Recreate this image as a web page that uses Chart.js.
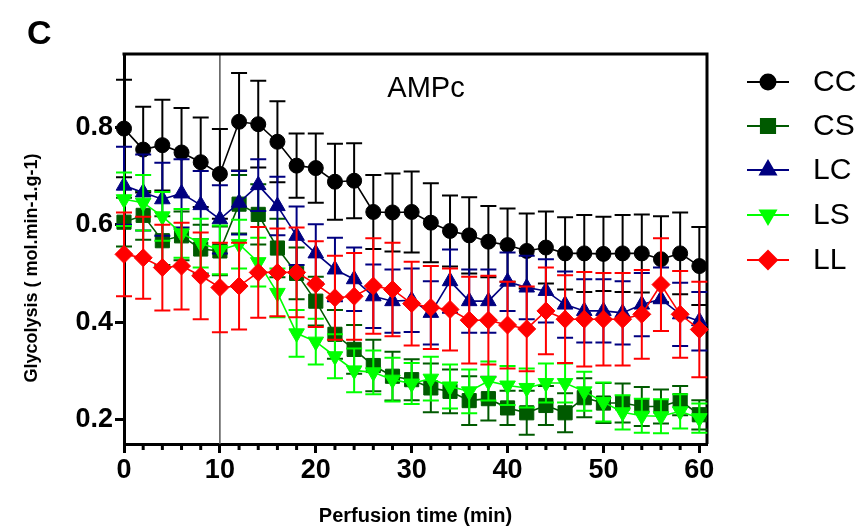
<!DOCTYPE html>
<html>
<head>
<meta charset="utf-8">
<script src="https://cdn.jsdelivr.net/npm/chart.js@4.4.0/dist/chart.umd.min.js"></script>
<style>
  html, body { margin: 0; padding: 0; background: #fff; }
  canvas { display: block; }
</style>
</head>
<body>
<canvas id="chart" width="861" height="528"></canvas>
<script>
const timeMin = [0, 2, 4, 6, 8, 10, 12, 14, 16, 18, 20, 22, 24, 26, 28, 30, 32, 34, 36, 38, 40, 42, 44, 46, 48, 50, 52, 54, 56, 58, 60];

const ccMean = [0.797, 0.754, 0.763, 0.748, 0.728, 0.704, 0.811, 0.806, 0.770, 0.721, 0.716, 0.688, 0.690, 0.626, 0.625, 0.626, 0.604, 0.587, 0.578, 0.565, 0.558, 0.546, 0.553, 0.541, 0.541, 0.540, 0.541, 0.541, 0.529, 0.541, 0.515];
const ccErr = [0.100, 0.088, 0.093, 0.091, 0.092, 0.092, 0.100, 0.089, 0.083, 0.066, 0.071, 0.078, 0.077, 0.076, 0.080, 0.083, 0.081, 0.073, 0.078, 0.073, 0.075, 0.077, 0.074, 0.074, 0.079, 0.076, 0.079, 0.080, 0.088, 0.084, 0.080];

const csMean = [0.605, 0.619, 0.567, 0.577, 0.550, 0.546, 0.642, 0.621, 0.552, 0.500, 0.443, 0.375, 0.344, 0.311, 0.289, 0.282, 0.265, 0.258, 0.239, 0.243, 0.224, 0.214, 0.229, 0.214, 0.245, 0.234, 0.234, 0.227, 0.227, 0.239, 0.210];
const csErr = [0.050, 0.050, 0.050, 0.050, 0.050, 0.050, 0.060, 0.062, 0.060, 0.053, 0.050, 0.050, 0.050, 0.053, 0.050, 0.042, 0.050, 0.045, 0.050, 0.045, 0.035, 0.045, 0.040, 0.040, 0.040, 0.041, 0.040, 0.040, 0.035, 0.030, 0.030];

const lcMean = [0.680, 0.666, 0.652, 0.664, 0.640, 0.611, 0.645, 0.681, 0.638, 0.577, 0.541, 0.508, 0.488, 0.453, 0.443, 0.445, 0.419, 0.484, 0.443, 0.443, 0.483, 0.471, 0.464, 0.436, 0.423, 0.423, 0.419, 0.436, 0.447, 0.416, 0.402];
const lcErr = [0.080, 0.078, 0.075, 0.070, 0.070, 0.070, 0.065, 0.053, 0.060, 0.060, 0.060, 0.065, 0.065, 0.065, 0.065, 0.065, 0.065, 0.065, 0.065, 0.065, 0.060, 0.065, 0.065, 0.068, 0.065, 0.065, 0.065, 0.065, 0.065, 0.065, 0.060];

const lsMean = [0.652, 0.645, 0.617, 0.582, 0.562, 0.548, 0.560, 0.523, 0.460, 0.377, 0.360, 0.330, 0.301, 0.297, 0.282, 0.274, 0.284, 0.268, 0.258, 0.279, 0.270, 0.265, 0.275, 0.275, 0.258, 0.236, 0.215, 0.208, 0.207, 0.217, 0.203];
const lsErr = [0.055, 0.057, 0.050, 0.050, 0.050, 0.050, 0.050, 0.050, 0.050, 0.048, 0.047, 0.045, 0.045, 0.045, 0.045, 0.042, 0.045, 0.045, 0.045, 0.040, 0.040, 0.040, 0.040, 0.040, 0.040, 0.040, 0.035, 0.035, 0.035, 0.035, 0.030];

const llMean = [0.539, 0.532, 0.512, 0.515, 0.495, 0.471, 0.474, 0.502, 0.502, 0.502, 0.478, 0.450, 0.453, 0.474, 0.467, 0.438, 0.430, 0.426, 0.404, 0.404, 0.394, 0.386, 0.423, 0.406, 0.406, 0.406, 0.406, 0.416, 0.477, 0.416, 0.385];
const llErr = [0.086, 0.084, 0.088, 0.089, 0.089, 0.092, 0.089, 0.093, 0.090, 0.092, 0.088, 0.086, 0.089, 0.098, 0.096, 0.086, 0.085, 0.084, 0.089, 0.091, 0.089, 0.087, 0.089, 0.090, 0.097, 0.095, 0.095, 0.091, 0.095, 0.089, 0.098];

const xTickValues = [0, 10, 20, 30, 40, 50, 60];
const yTickValues = [0.2, 0.4, 0.6, 0.8];
const treatmentStart = 10;

const fontFamily = "'Liberation Sans', Arial, sans-serif";
Chart.defaults.font.family = fontFamily;
Chart.defaults.color = "#000";

function series(label, means, errors, color, style, radius, rotation, order) {
  return {
    label,
    data: timeMin.map((t, i) => ({ x: t, y: means[i] })),
    errors,
    borderColor: color,
    backgroundColor: color,
    borderWidth: 1.6,
    pointStyle: style,
    pointRadius: radius,
    pointHoverRadius: radius,
    pointRotation: rotation,
    pointBorderWidth: 1,
    pointBackgroundColor: color,
    pointBorderColor: color,
    tension: 0,
    clip: false,
    order,
  };
}

const datasets = [
  series("CC", ccMean, ccErr, "#000000", "circle", 7.5, 0, 5),
  series("CS", csMean, csErr, "#005a00", "rect", 10, 0, 4),
  series("LC", lcMean, lcErr, "#000080", "triangle", 9, 0, 3),
  series("LS", lsMean, lsErr, "#00ff00", "triangle", 9, 180, 2),
  series("LL", llMean, llErr, "#ff0000", "rectRot", 9, 0, 1),
];

// error bars, drawn with each dataset so the stacking follows the series order
const errorBars = {
  id: "errorBars",
  beforeDatasetDraw(chart, args) {
    const ds = chart.data.datasets[args.index];
    const yScale = chart.scales.y;
    const ctx = chart.ctx;
    ctx.save();
    ctx.strokeStyle = ds.borderColor;
    ctx.lineWidth = 2;
    args.meta.data.forEach((pt, i) => {
      const v = ds.data[i].y;
      const e = ds.errors[i];
      const top = yScale.getPixelForValue(v + e);
      const bottom = yScale.getPixelForValue(v - e);
      ctx.beginPath();
      ctx.moveTo(pt.x, top);
      ctx.lineTo(pt.x, bottom);
      ctx.moveTo(pt.x - 8, top);
      ctx.lineTo(pt.x + 8, top);
      ctx.moveTo(pt.x - 8, bottom);
      ctx.lineTo(pt.x + 8, bottom);
      ctx.stroke();
    });
    ctx.restore();
  },
};

// frame lines, treatment marker and minor ticks
const frame = {
  id: "frame",
  beforeDatasetsDraw(chart) {
    const { ctx, chartArea: a, scales: { x } } = chart;
    ctx.save();
    const xs = x.getPixelForValue(treatmentStart);
    ctx.strokeStyle = "#555";
    ctx.lineWidth = 1.5;
    ctx.beginPath();
    ctx.moveTo(xs, a.top);
    ctx.lineTo(xs, a.bottom);
    ctx.stroke();

    ctx.strokeStyle = "#000";
    ctx.lineWidth = 3;
    ctx.beginPath();
    ctx.moveTo(a.left - 1.5, a.top);
    ctx.lineTo(a.right, a.top);
    ctx.lineTo(a.right, a.bottom);
    ctx.stroke();

    timeMin.filter((t) => t % 10 !== 0).forEach((t) => {
      const px = x.getPixelForValue(t);
      ctx.beginPath();
      ctx.moveTo(px, a.bottom);
      ctx.lineTo(px, a.bottom + 6);
      ctx.stroke();
    });
    ctx.restore();
  },
  afterDraw(chart) {
    const ctx = chart.ctx;
    ctx.save();
    ctx.fillStyle = "#000";
    ctx.textBaseline = "alphabetic";

    ctx.font = `bold 34px ${fontFamily}`;
    ctx.textAlign = "left";
    ctx.fillText("C", 27, 44);

    ctx.font = `29px ${fontFamily}`;
    ctx.textAlign = "center";
    ctx.fillText("AMPc", 426, 97);

    ctx.save();
    ctx.translate(37, 268);
    ctx.rotate(-Math.PI / 2);
    ctx.font = `bold 18px ${fontFamily}`;
    ctx.fillText("Glycolysis ( mol.min-1.g-1)", 0, 0);
    ctx.restore();

    // legend
    const rowY = [82, 126, 170, 215, 260];
    chart.data.datasets.forEach((ds, i) => {
      const y = rowY[i];
      ctx.strokeStyle = ds.borderColor;
      ctx.fillStyle = ds.backgroundColor;
      ctx.lineWidth = 2;
      ctx.beginPath();
      ctx.moveTo(747, y);
      ctx.lineTo(789, y);
      ctx.stroke();
      Chart.helpers.drawPoint(ctx, {
        pointStyle: ds.pointStyle,
        radius: ds.pointRadius,
        rotation: ds.pointRotation,
        borderWidth: 1,
      }, 768, y);
      ctx.fillStyle = "#000";
      ctx.font = `30px ${fontFamily}`;
      ctx.textAlign = "left";
      ctx.textBaseline = "middle";
      ctx.fillText(ds.label, 813, y + 1);
    });
    ctx.restore();
  },
};

new Chart(document.getElementById("chart"), {
  type: "line",
  data: { datasets },
  plugins: [errorBars, frame],
  options: {
    responsive: false,
    animation: false,
    devicePixelRatio: 1,
    layout: { padding: { top: 54, right: 154, left: 0, bottom: 0 } },
    plugins: { legend: { display: false }, tooltip: { enabled: false } },
    scales: {
      x: {
        type: "linear",
        min: 0,
        max: 60.8,
        afterBuildTicks: (scale) => { scale.ticks = xTickValues.map((v) => ({ value: v })); },
        afterFit: (scale) => { scale.height = 84; },
        grid: { drawOnChartArea: false, tickLength: 9, tickWidth: 3, tickColor: "#000" },
        border: { color: "#000", width: 3 },
        ticks: { font: { size: 27, weight: "bold" }, color: "#000", padding: 1, maxRotation: 0 },
        title: {
          display: true,
          text: "Perfusion time (min)",
          font: { size: 20, weight: "bold", lineHeight: 1.2 },
          padding: { top: 0, bottom: 0 },
        },
      },
      y: {
        min: 0.15,
        max: 0.95,
        afterBuildTicks: (scale) => { scale.ticks = yTickValues.map((v) => ({ value: v })); },
        afterFit: (scale) => { scale.width = 124; },
        grid: { drawOnChartArea: false, tickLength: 9, tickWidth: 3, tickColor: "#000" },
        border: { color: "#000", width: 3 },
        ticks: {
          font: { size: 27, weight: "bold" },
          color: "#000",
          padding: 2,
          callback: (v) => v.toFixed(1),
        },
      },
    },
  },
});
</script>
</body>
</html>
